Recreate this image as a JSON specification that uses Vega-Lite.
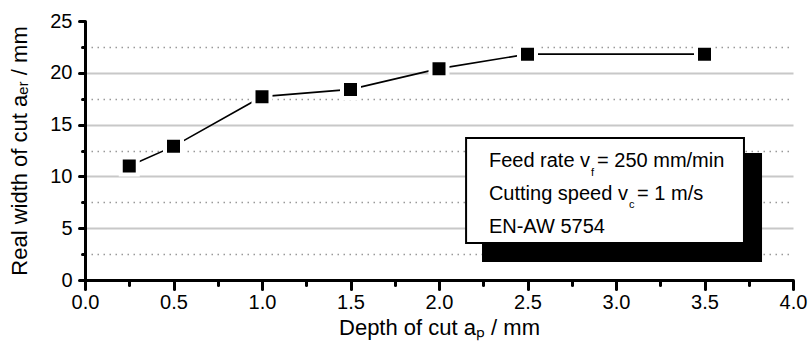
{
  "$schema": "https://vega.github.io/schema/vega-lite/v6.json",
  "width": 708,
  "height": 259,
  "autosize": {"type": "none"},
  "padding": {"left": 85, "top": 21, "right": 15, "bottom": 64},
  "background": "white",
  "config": {
    "view": {"stroke": null},
    "axis": {
      "labelFont": "Liberation Sans",
      "titleFont": "Liberation Sans",
      "labelColor": "black",
      "titleColor": "black",
      "domainColor": "black",
      "tickColor": "black",
      "domainWidth": 3,
      "tickWidth": 3,
      "tickCap": "round",
      "labelFontSize": 20,
      "titleFontSize": 22,
      "titleFontWeight": "normal"
    }
  },
  "data": {
    "values": [
      {"depth": 0.25, "width": 11.0},
      {"depth": 0.5, "width": 12.9},
      {"depth": 1.0, "width": 17.7},
      {"depth": 1.5, "width": 18.4},
      {"depth": 2.0, "width": 20.4},
      {"depth": 2.5, "width": 21.8},
      {"depth": 3.5, "width": 21.8}
    ]
  },
  "encoding": {
    "x": {
      "field": "depth",
      "type": "quantitative",
      "scale": {"domain": [0, 4], "nice": false, "zero": false},
      "axis": {
        "title": "Depth of cut aₚ / mm",
        "values": [0, 0.25, 0.5, 0.75, 1, 1.25, 1.5, 1.75, 2, 2.25, 2.5, 2.75, 3, 3.25, 3.5, 3.75, 4],
        "labelExpr": "datum.value % 0.5 === 0 ? format(datum.value, '.1f') : ''",
        "tickSize": {"condition": {"test": "datum.value % 0.5 === 0", "value": 9}, "value": 5},
        "labelPadding": 3,
        "titlePadding": 5,
        "grid": false,
        "labelFlush": false
      }
    },
    "y": {
      "field": "width",
      "type": "quantitative",
      "scale": {"domain": [0, 25], "nice": false},
      "axis": {
        "title": "Real width of cut aₑᵣ  / mm",
        "values": [0, 2.5, 5, 7.5, 10, 12.5, 15, 17.5, 20, 22.5, 25],
        "labelExpr": "datum.value % 5 === 0 ? datum.label : ''",
        "tickSize": {"condition": {"test": "datum.value % 5 === 0", "value": 6}, "value": 3},
        "labelPadding": 7,
        "titlePadding": 18,
        "grid": true,
        "gridColor": {"condition": {"test": "datum.value % 5 === 0", "value": "#c8c8c8"}, "value": "#999999"},
        "gridWidth": {"condition": {"test": "datum.value % 5 === 0", "value": 2}, "value": 1.5},
        "gridDash": {"condition": {"test": "datum.value % 5 === 0", "value": []}, "value": [1.5, 4.5]},
        "gridOpacity": {"condition": {"test": "datum.value === 0 || datum.value === 25", "value": 0}, "value": 1},
        "labelFlush": false
      }
    }
  },
  "layer": [
    {"mark": {"type": "line", "color": "black", "strokeWidth": 1.6}},
    {"mark": {"type": "point", "shape": "square", "filled": true, "fill": "black", "stroke": "white", "strokeWidth": 4, "opacity": 1, "size": 289}},
    {
      "transform": [{"filter": "datum.depth === 0.25"}],
      "mark": {"type": "rect", "fill": "black"},
      "encoding": {
        "x": {"datum": 2.243, "type": "quantitative"},
        "x2": {"datum": 3.825},
        "y": {"datum": 1.74, "type": "quantitative"},
        "y2": {"datum": 12.26}
      }
    },
    {
      "transform": [{"filter": "datum.depth === 0.25"}],
      "mark": {"type": "rect", "fill": "white", "stroke": "black", "strokeWidth": 2},
      "encoding": {
        "x": {"datum": 2.153, "type": "quantitative"},
        "x2": {"datum": 3.723},
        "y": {"datum": 3.57, "type": "quantitative"},
        "y2": {"datum": 13.7}
      }
    },
    {
      "transform": [{"filter": "datum.depth === 0.25"}],
      "mark": {"type": "text", "align": "left", "baseline": "middle", "font": "Liberation Sans", "fontSize": 20, "fill": "#000000", "text": "Feed rate v"},
      "encoding": {"x": {"datum": 2.282, "type": "quantitative"}, "y": {"datum": 11.49, "type": "quantitative"}}
    },
    {
      "transform": [{"filter": "datum.depth === 0.25"}],
      "mark": {"type": "text", "align": "left", "baseline": "middle", "font": "Liberation Sans", "fontSize": 11, "fill": "#000000", "text": "f"},
      "encoding": {"x": {"datum": 2.859, "type": "quantitative"}, "y": {"datum": 10.33, "type": "quantitative"}}
    },
    {
      "transform": [{"filter": "datum.depth === 0.25"}],
      "mark": {"type": "text", "align": "left", "baseline": "middle", "font": "Liberation Sans", "fontSize": 20, "fill": "#000000", "text": "= 250 mm/min"},
      "encoding": {"x": {"datum": 2.893, "type": "quantitative"}, "y": {"datum": 11.49, "type": "quantitative"}}
    },
    {
      "transform": [{"filter": "datum.depth === 0.25"}],
      "mark": {"type": "text", "align": "left", "baseline": "middle", "font": "Liberation Sans", "fontSize": 20, "fill": "#000000", "text": "Cutting speed v"},
      "encoding": {"x": {"datum": 2.282, "type": "quantitative"}, "y": {"datum": 8.30, "type": "quantitative"}}
    },
    {
      "transform": [{"filter": "datum.depth === 0.25"}],
      "mark": {"type": "text", "align": "left", "baseline": "middle", "font": "Liberation Sans", "fontSize": 11, "fill": "#000000", "text": "c"},
      "encoding": {"x": {"datum": 3.073, "type": "quantitative"}, "y": {"datum": 7.24, "type": "quantitative"}}
    },
    {
      "transform": [{"filter": "datum.depth === 0.25"}],
      "mark": {"type": "text", "align": "left", "baseline": "middle", "font": "Liberation Sans", "fontSize": 20, "fill": "#000000", "text": "= 1 m/s"},
      "encoding": {"x": {"datum": 3.119, "type": "quantitative"}, "y": {"datum": 8.30, "type": "quantitative"}}
    },
    {
      "transform": [{"filter": "datum.depth === 0.25"}],
      "mark": {"type": "text", "align": "left", "baseline": "middle", "font": "Liberation Sans", "fontSize": 20, "fill": "#000000", "text": "EN-AW 5754"},
      "encoding": {"x": {"datum": 2.282, "type": "quantitative"}, "y": {"datum": 5.12, "type": "quantitative"}}
    }
  ]
}
